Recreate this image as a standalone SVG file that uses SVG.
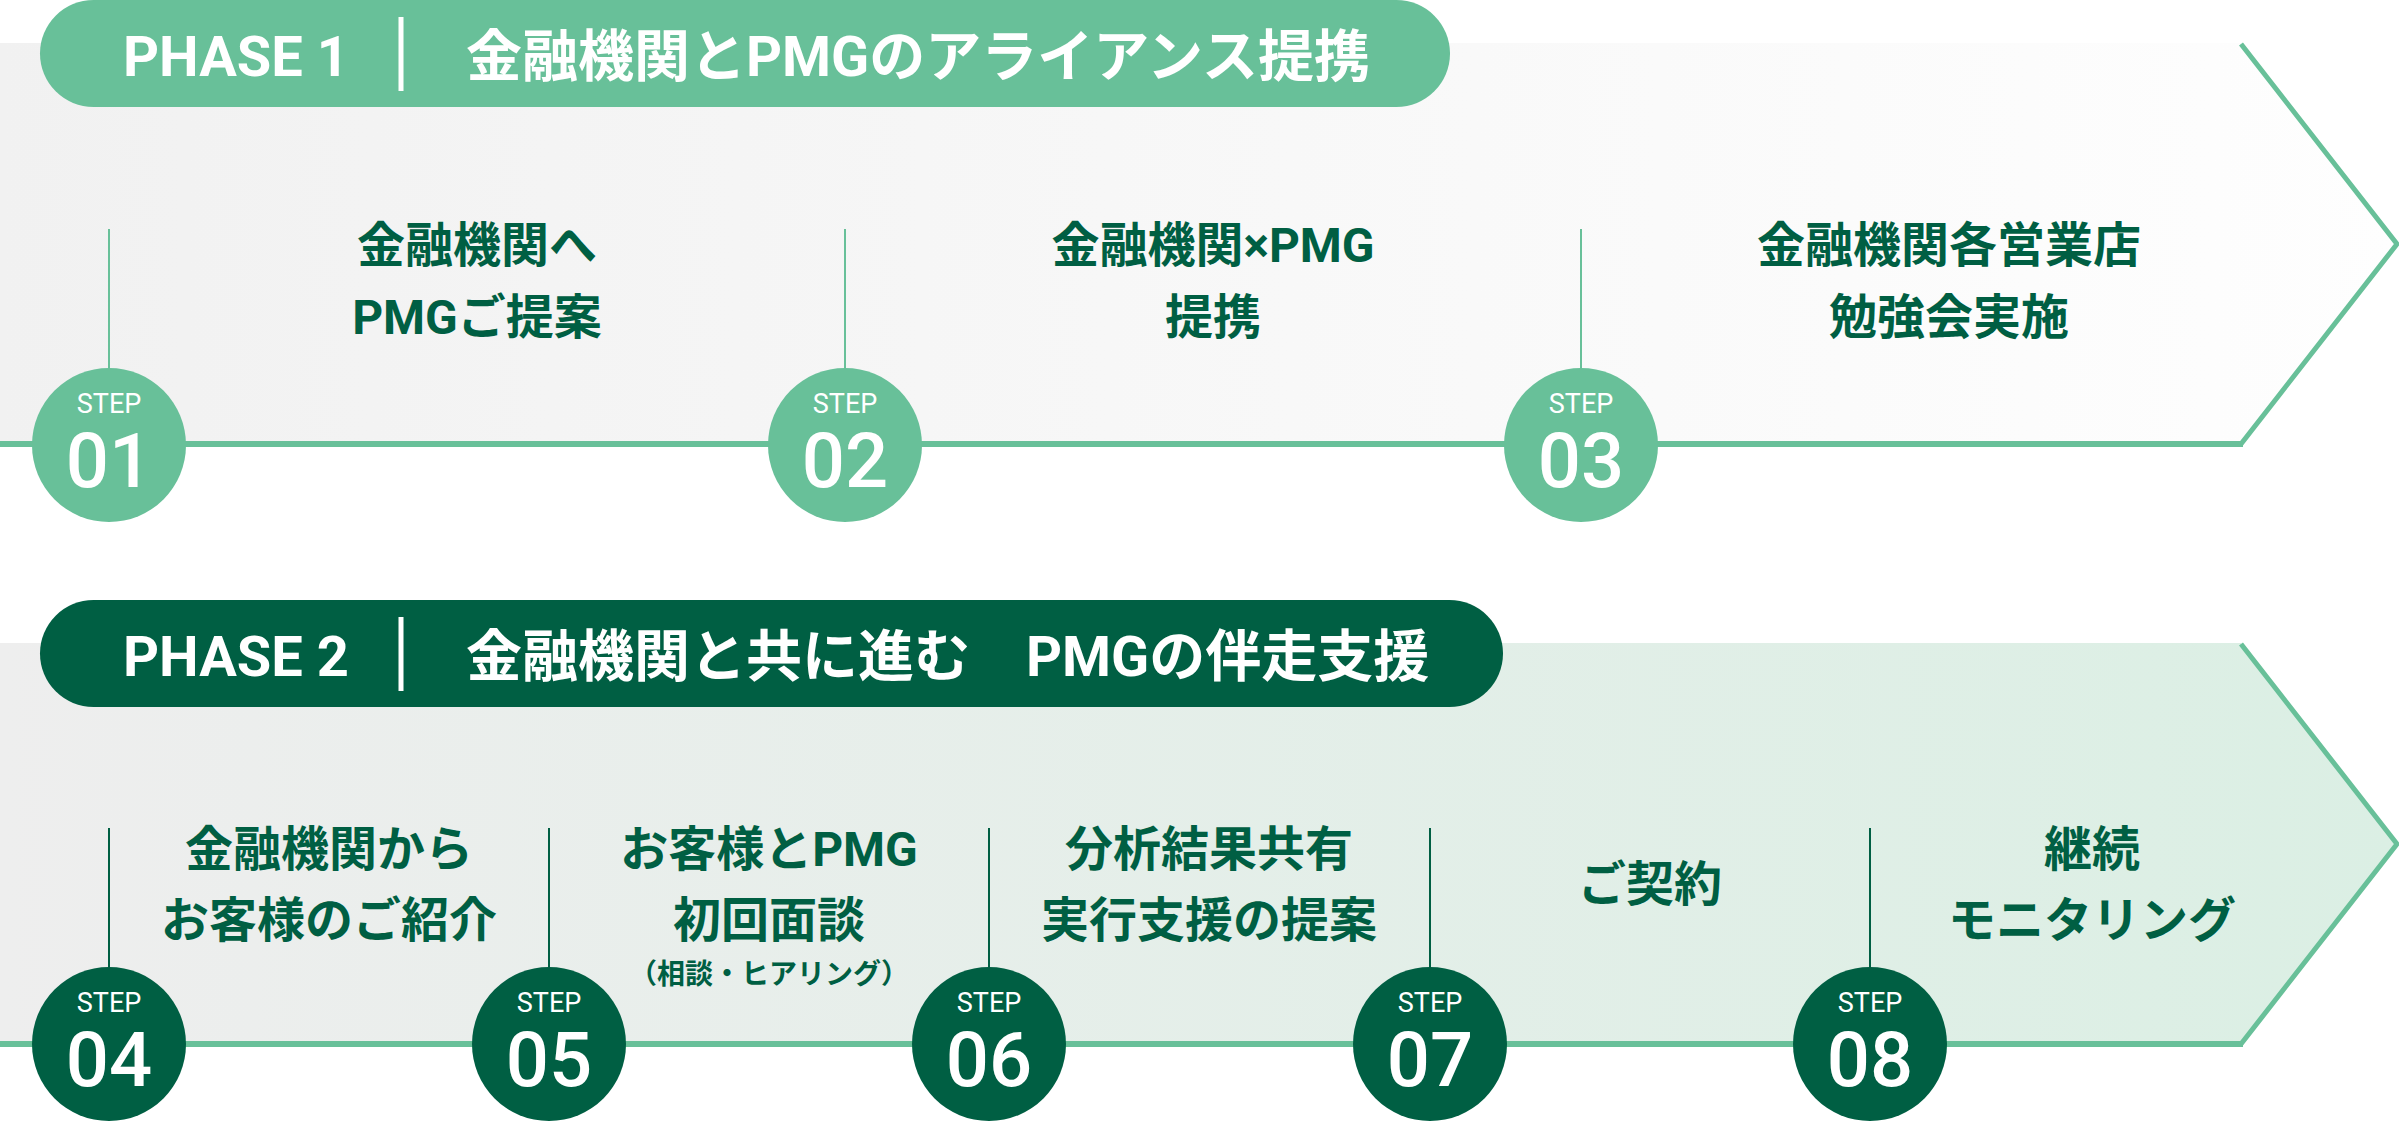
<svg xmlns="http://www.w3.org/2000/svg" width="2399" height="1122" viewBox="0 0 2399 1122">
<defs>
<linearGradient id="bg1" x1="0" y1="0" x2="1" y2="0">
<stop offset="0" stop-color="#f1f1f1"/>
<stop offset="1" stop-color="#fefefe"/>
</linearGradient>
<linearGradient id="bg2" x1="0" y1="0" x2="1" y2="0">
<stop offset="0" stop-color="#eeeeee"/>
<stop offset="1" stop-color="#dbefe4"/>
</linearGradient>
</defs>
<style>
.f{font-family:Roboto,"Noto Sans CJK JP","Noto Sans",sans-serif}
.ph{font-size:56px;font-weight:700;fill:#ffffff}
.lab{font-size:48px;font-weight:700;fill:#005f43;text-anchor:middle}
.sub{font-size:28px;font-weight:700;fill:#005f43;text-anchor:middle}
.stp{font-size:27px;font-weight:400;fill:#ffffff;text-anchor:middle}
.num{font-size:76px;font-weight:500;fill:#ffffff;text-anchor:middle}
.c1{fill:#68c099}
.c2{fill:#005f43}
.vl1{stroke:#68c099;stroke-width:2}
.vl2{stroke:#005f43;stroke-width:2}
.arr{fill:none;stroke:#68c099;stroke-width:5}
.base{stroke:#68c099;stroke-width:6}
</style>
<rect width="2399" height="1122" fill="#ffffff"/>
<g id="bands">
<polygon points="0,43 2241,43 2397,244 2241,444 0,444" fill="url(#bg1)"/>
<polygon points="0,643 2241,643 2397,844 2241,1044 0,1044" fill="url(#bg2)"/>
</g>
<g id="connectors">
<polyline class="arr" points="2241,44 2397,244 2241,444"/>
<line class="base" x1="0" y1="444" x2="2243" y2="444"/>
<polyline class="arr" points="2241,644 2397,844 2241,1044"/>
<line class="base" x1="0" y1="1044" x2="2243" y2="1044"/>
<line class="vl1" x1="109" y1="229" x2="109" y2="370"/>
<line class="vl1" x1="845" y1="229" x2="845" y2="370"/>
<line class="vl1" x1="1581" y1="229" x2="1581" y2="370"/>
<line class="vl2" x1="109" y1="828" x2="109" y2="970"/>
<line class="vl2" x1="549" y1="828" x2="549" y2="970"/>
<line class="vl2" x1="989" y1="828" x2="989" y2="970"/>
<line class="vl2" x1="1430" y1="828" x2="1430" y2="970"/>
<line class="vl2" x1="1870" y1="828" x2="1870" y2="970"/>
</g>
<g id="phase1">
<rect x="40" y="0" width="1410" height="107" rx="53.5" class="c1"/>
<text class="f ph" x="123" y="76">PHASE 1</text>
<rect x="398.5" y="17" width="5" height="74" fill="#ffffff"/>
<text class="f ph" x="466" y="76">金融機関とPMGのアライアンス提携</text>
</g>
<g id="phase2">
<rect x="40" y="600" width="1463" height="107" rx="53.5" class="c2"/>
<text class="f ph" x="123" y="676">PHASE 2</text>
<rect x="398.5" y="617" width="5" height="74" fill="#ffffff"/>
<text class="f ph" x="466" y="676" xml:space="preserve">金融機関と共に進む　PMGの伴走支援</text>
</g>
<g id="step01">
<text class="f lab" x="477" y="262">金融機関へ</text>
<text class="f lab" x="477" y="334">PMGご提案</text>
<circle cx="109" cy="445" r="77" class="c1"/>
<text class="f stp" x="109" y="413">STEP</text>
<text class="f num" x="109" y="487">01</text>
</g>
<g id="step02">
<text class="f lab" x="1213" y="262">金融機関×PMG</text>
<text class="f lab" x="1213" y="334">提携</text>
<circle cx="845" cy="445" r="77" class="c1"/>
<text class="f stp" x="845" y="413">STEP</text>
<text class="f num" x="845" y="487">02</text>
</g>
<g id="step03">
<text class="f lab" x="1949" y="262">金融機関各営業店</text>
<text class="f lab" x="1949" y="334">勉強会実施</text>
<circle cx="1581" cy="445" r="77" class="c1"/>
<text class="f stp" x="1581" y="413">STEP</text>
<text class="f num" x="1581" y="487">03</text>
</g>
<g id="step04">
<text class="f lab" x="329" y="866">金融機関から</text>
<text class="f lab" x="329" y="937">お客様のご紹介</text>
<circle cx="109" cy="1044" r="77" class="c2"/>
<text class="f stp" x="109" y="1012">STEP</text>
<text class="f num" x="109" y="1086">04</text>
</g>
<g id="step05">
<text class="f lab" x="769" y="866">お客様とPMG</text>
<text class="f lab" x="769" y="937">初回面談</text>
<text class="f sub" x="769" y="984">（相談・ヒアリング）</text>
<circle cx="549" cy="1044" r="77" class="c2"/>
<text class="f stp" x="549" y="1012">STEP</text>
<text class="f num" x="549" y="1086">05</text>
</g>
<g id="step06">
<text class="f lab" x="1209" y="866">分析結果共有</text>
<text class="f lab" x="1209" y="937">実行支援の提案</text>
<circle cx="989" cy="1044" r="77" class="c2"/>
<text class="f stp" x="989" y="1012">STEP</text>
<text class="f num" x="989" y="1086">06</text>
</g>
<g id="step07">
<text class="f lab" x="1650" y="901">ご契約</text>
<circle cx="1430" cy="1044" r="77" class="c2"/>
<text class="f stp" x="1430" y="1012">STEP</text>
<text class="f num" x="1430" y="1086">07</text>
</g>
<g id="step08">
<text class="f lab" x="2092" y="866">継続</text>
<text class="f lab" x="2092" y="937">モニタリング</text>
<circle cx="1870" cy="1044" r="77" class="c2"/>
<text class="f stp" x="1870" y="1012">STEP</text>
<text class="f num" x="1870" y="1086">08</text>
</g>
</svg>
